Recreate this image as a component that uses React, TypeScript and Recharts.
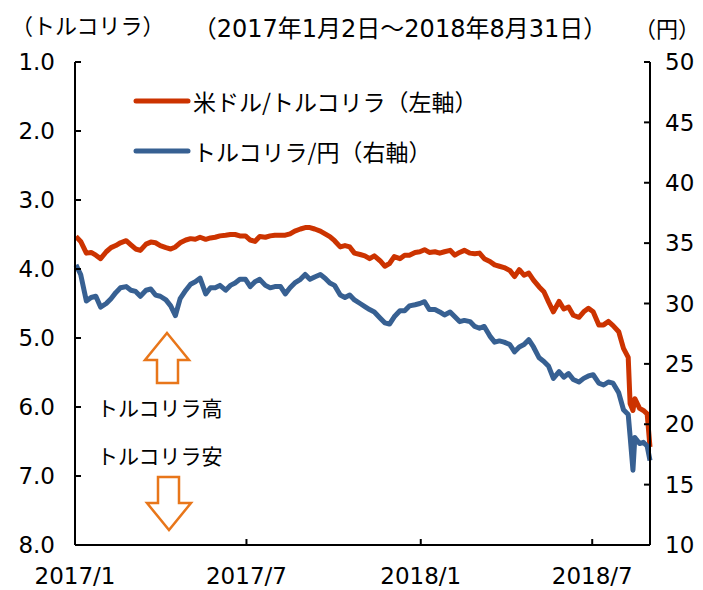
import { LineChart, Line, XAxis, YAxis } from "recharts";

// 2017/1/2 - 2018/8/31
const dates = [
  "2017-01-02", "2017-01-07", "2017-01-13", "2017-01-18", "2017-01-23", "2017-01-28",
  "2017-02-03", "2017-02-08", "2017-02-13", "2017-02-18", "2017-02-24",
  "2017-03-01", "2017-03-06", "2017-03-11", "2017-03-17", "2017-03-22", "2017-03-27",
  "2017-04-01", "2017-04-07", "2017-04-12", "2017-04-17", "2017-04-22", "2017-04-28",
  "2017-05-03", "2017-05-08", "2017-05-13", "2017-05-19", "2017-05-24", "2017-05-29",
  "2017-06-03", "2017-06-09", "2017-06-14", "2017-06-19", "2017-06-24", "2017-06-30",
  "2017-07-05", "2017-07-10", "2017-07-15", "2017-07-21", "2017-07-26", "2017-07-31",
  "2017-08-06", "2017-08-11", "2017-08-16", "2017-08-21", "2017-08-27",
  "2017-09-01", "2017-09-06", "2017-09-11", "2017-09-17", "2017-09-22", "2017-09-27",
  "2017-10-02", "2017-10-08", "2017-10-13", "2017-10-18", "2017-10-23", "2017-10-29",
  "2017-11-03", "2017-11-08", "2017-11-13", "2017-11-19", "2017-11-24", "2017-11-29",
  "2017-12-04", "2017-12-10", "2017-12-15", "2017-12-20", "2017-12-26", "2017-12-31",
  "2018-01-05", "2018-01-10", "2018-01-16", "2018-01-21", "2018-01-26",
  "2018-02-01", "2018-02-06", "2018-02-11", "2018-02-16", "2018-02-22", "2018-02-27",
  "2018-03-04", "2018-03-09", "2018-03-15", "2018-03-20", "2018-03-25", "2018-03-30",
  "2018-04-05", "2018-04-10", "2018-04-15", "2018-04-20", "2018-04-25", "2018-04-30",
  "2018-05-06", "2018-05-11", "2018-05-16", "2018-05-21", "2018-05-27",
  "2018-06-01", "2018-06-06", "2018-06-11", "2018-06-17", "2018-06-22", "2018-06-27",
  "2018-07-02", "2018-07-08", "2018-07-13", "2018-07-18", "2018-07-23", "2018-07-29",
  "2018-08-03", "2018-08-08", "2018-08-10", "2018-08-13", "2018-08-15", "2018-08-20",
  "2018-08-24", "2018-08-28", "2018-08-31",
];

// 米ドル/トルコリラ (left axis, reversed)
const usdTry = [
  3.53, 3.60, 3.77, 3.76, 3.80, 3.85,
  3.75, 3.69, 3.66, 3.62, 3.59,
  3.65, 3.71, 3.73, 3.64, 3.61, 3.62,
  3.66, 3.69, 3.71, 3.68, 3.62, 3.58,
  3.56, 3.57, 3.54, 3.57, 3.55, 3.54,
  3.52, 3.51, 3.50, 3.50, 3.52, 3.52,
  3.58, 3.60, 3.53, 3.54, 3.52, 3.51,
  3.51, 3.51, 3.49, 3.45, 3.42,
  3.40, 3.40, 3.42, 3.45, 3.49, 3.53,
  3.59, 3.68, 3.66, 3.68, 3.77, 3.79,
  3.81, 3.85, 3.81, 3.88, 3.96, 3.92,
  3.82, 3.85, 3.80, 3.80, 3.76, 3.75,
  3.72, 3.76, 3.75, 3.77, 3.75,
  3.73, 3.80, 3.76, 3.73, 3.77, 3.78,
  3.77, 3.85, 3.89, 3.94, 3.96, 3.98,
  4.02, 4.11, 4.01, 4.09, 4.06, 4.16,
  4.26, 4.33, 4.48, 4.62, 4.47,
  4.58, 4.55, 4.67, 4.70, 4.62, 4.57,
  4.62, 4.81, 4.81, 4.76, 4.82, 4.91,
  5.15, 5.28, 5.95, 6.05, 5.88, 6.02,
  6.05, 6.10, 6.58,
];

// トルコリラ/円 (right axis)
const tryJpy = [
  33.2, 32.4, 30.2, 30.5, 30.6, 29.7,
  30.0, 30.4, 30.9, 31.3, 31.4,
  31.1, 31.0, 30.6, 31.1, 31.2, 30.7,
  30.6, 30.3, 29.8, 29.0, 30.4, 31.1,
  31.6, 31.8, 32.1, 30.8, 31.3, 31.3,
  31.5, 31.1, 31.5, 31.7, 32.0, 32.0,
  31.4, 31.8, 32.0, 31.5, 31.3, 31.4,
  31.4, 30.8, 31.3, 31.7, 32.0,
  32.4, 32.0, 32.2, 32.4, 32.1, 31.7,
  31.5, 30.7, 30.5, 30.7, 30.3, 30.0,
  29.75, 29.5, 29.3, 28.8, 28.4, 28.3,
  28.9, 29.4, 29.4, 29.8, 29.9, 30.0,
  30.15, 29.5, 29.5, 29.3, 29.05,
  29.3, 28.9, 28.5, 28.6, 28.5, 28.1,
  27.95, 28.1, 27.3, 26.8, 26.9, 26.8,
  26.6, 26.0, 26.4, 26.6, 27.0, 26.4,
  25.5, 25.2, 24.8, 23.8, 24.35,
  23.9, 24.2, 23.7, 23.5, 23.8, 24.0,
  24.1, 23.4, 23.25, 23.5, 23.4, 22.6,
  21.2, 20.8, 19.0, 16.2, 18.9, 18.4,
  18.5, 18.2, 17.0,
];

const xTickDates = ["2017-01-01", "2017-07-01", "2018-01-01", "2018-07-01"];
const xTickLabels = ["2017/1", "2017/7", "2018/1", "2018/7"];
const leftTicks = [1, 2, 3, 4, 5, 6, 7, 8];
const rightTicks = [10, 15, 20, 25, 30, 35, 40, 45, 50];

const START = Date.UTC(2017, 0, 1);
const dayOf = (s: string) => {
  const [y, m, d] = s.split("-").map(Number);
  return (Date.UTC(y, m - 1, d) - START) / 86400000;
};

const data = dates.map((d, i) => ({ day: dayOf(d), usdTry: usdTry[i], tryJpy: tryJpy[i] }));
const xTicks = xTickDates.map(dayOf);

const FONT = "'DejaVu Sans', 'Noto Sans CJK JP', sans-serif";
const JP = "'Noto Sans CJK JP', sans-serif";
const ORANGE = "#CC3300";
const BLUE = "#376092";
const ARROW = "#E8761A";

const axisLine = { stroke: "#000", strokeWidth: 2 };
const tickStyle = { fontSize: 23, fill: "#000", fontFamily: FONT };

export default function App() {
  return (
    <div style={{ position: "absolute", left: 0, top: 0, width: 703, height: 590, background: "#fff" }}>
      <LineChart width={703} height={590} data={data} margin={{ top: 62, right: 0, bottom: 0, left: 0 }}>
        <XAxis
          dataKey="day"
          type="number"
          domain={[0, dayOf("2018-08-31")]}
          ticks={xTicks}
          interval={0}
          tickFormatter={(v: number) => xTickLabels[xTicks.indexOf(v)] ?? ""}
          height={45}
          tickSize={-6}
          tickMargin={29}
          axisLine={axisLine}
          tickLine={axisLine}
          tick={tickStyle}
        />
        <YAxis
          yAxisId="l"
          orientation="left"
          reversed
          domain={[1, 8]}
          ticks={leftTicks}
          interval={0}
          tickFormatter={(v: number) => v.toFixed(1)}
          width={75}
          tickSize={-6}
          tickMargin={26}
          axisLine={axisLine}
          tickLine={axisLine}
          tick={tickStyle}
        />
        <YAxis
          yAxisId="r"
          orientation="right"
          domain={[10, 50]}
          ticks={rightTicks}
          interval={0}
          width={53}
          tickSize={-6}
          tickMargin={21}
          axisLine={axisLine}
          tickLine={axisLine}
          tick={tickStyle}
        />
        <Line yAxisId="l" dataKey="usdTry" stroke={ORANGE} strokeWidth={5} dot={false}
          strokeLinejoin="round" isAnimationActive={false} />
        <Line yAxisId="r" dataKey="tryJpy" stroke={BLUE} strokeWidth={5} dot={false}
          strokeLinejoin="round" isAnimationActive={false} />
      </LineChart>

      {/* titles, legend and annotations */}
      <svg width={703} height={590} style={{ position: "absolute", left: 0, top: 0, pointerEvents: "none" }}>
        <g fontFamily={FONT} fill="#000">
          <text x={11} y={26} fontSize={22} dominantBaseline="central">（トルコリラ）</text>
          <text x={400} y={29} fontSize={24} textAnchor="middle" dominantBaseline="central">（2017年1月2日～2018年8月31日）</text>
          <text x={634} y={29} fontSize={22} dominantBaseline="central">（円）</text>
        </g>
        <line x1={136} y1={101} x2={188} y2={101} stroke={ORANGE} strokeWidth={5} strokeLinecap="round" />
        <line x1={136} y1={151} x2={188} y2={151} stroke={BLUE} strokeWidth={5} strokeLinecap="round" />
        <g fontFamily={JP} fill="#000" fontSize={23}>
          <text x={193} y={101} dominantBaseline="central">米ドル/トルコリラ（左軸）</text>
          <text x={193} y={151} dominantBaseline="central">トルコリラ/円（右軸）</text>
        </g>
        <g fontFamily={JP} fill="#000" fontSize={21}>
          <text x={97} y={407} dominantBaseline="central">トルコリラ高</text>
          <text x={97} y={455} dominantBaseline="central">トルコリラ安</text>
        </g>
        <polygon points="167,333 189,360 178,360 178,383 157,383 157,360 145,360"
          fill="#fff" stroke={ARROW} strokeWidth={2.5} strokeLinejoin="miter" />
        <polygon points="158,477 179,477 179,503 191,503 169,530 147,503 158,503"
          fill="#fff" stroke={ARROW} strokeWidth={2.5} strokeLinejoin="miter" />
      </svg>
    </div>
  );
}
